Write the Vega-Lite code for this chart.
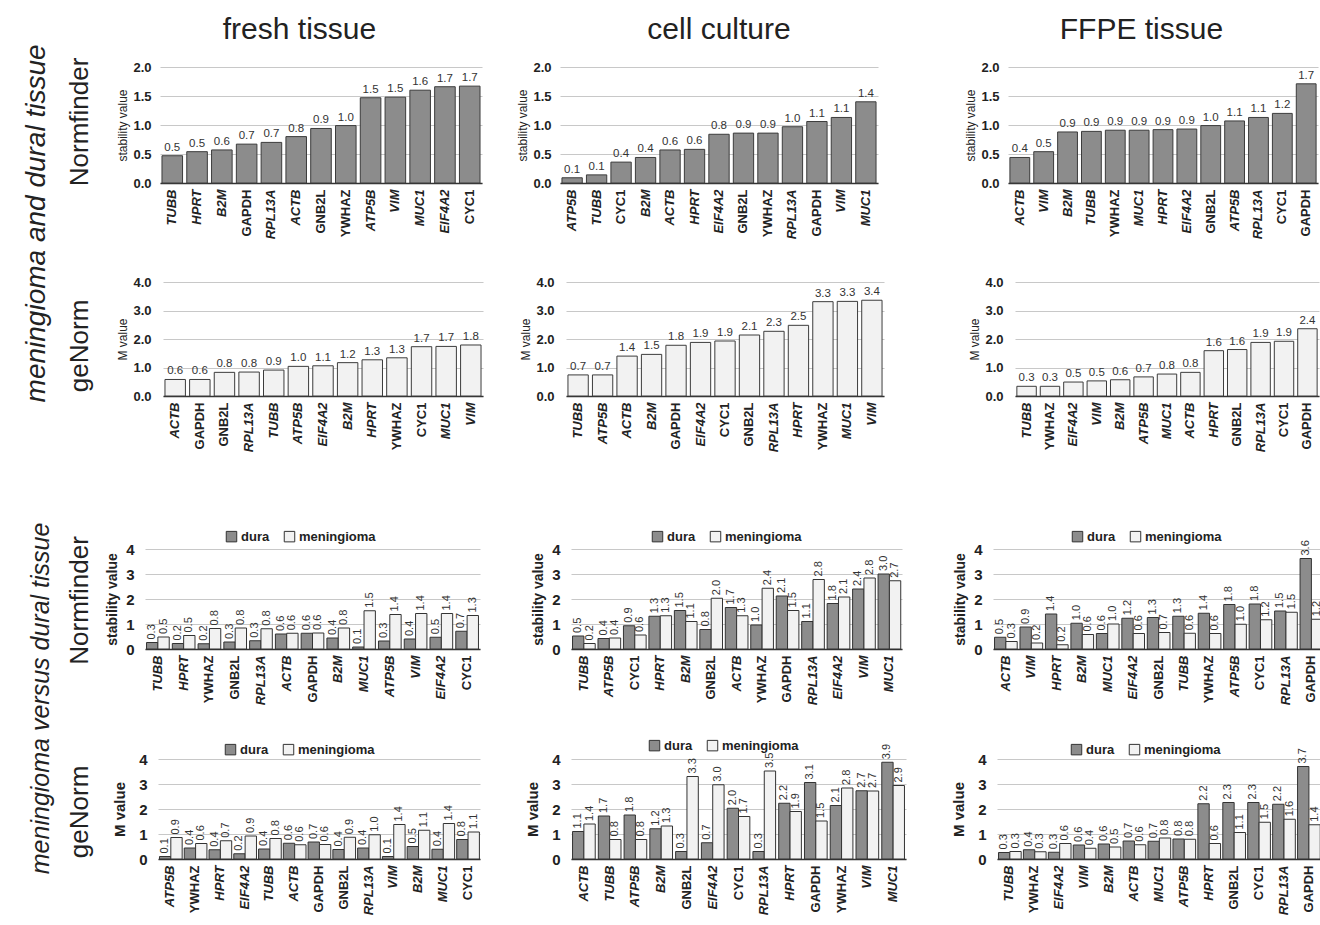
{
"$schema": "https://vega.github.io/schema/vega-lite/v6.json",
"padding": {"left": 22, "top": 15, "right": 0, "bottom": 0},
"config": {
 "font": "Liberation Sans",
 "view": {"stroke": null},
 "axis": {"labelColor": "#222", "titleColor": "#222"},
 "axisY": {"domain": false, "ticks": false, "gridColor": "#c8c8c8", "gridWidth": 1.2, "labelFontWeight": "bold", "labelFontSize": 12, "titleFontWeight": "normal", "titleFontSize": 12, "labelPadding": 3, "titlePadding": 4},
 "axisX": {"domainColor": "#333", "domainWidth": 1.5, "ticks": false, "labelAngle": -90, "labelFontWeight": "bold", "labelFontSize": 13, "grid": false, "labelPadding": 6},
 "title": {"color": "#222", "fontWeight": "normal"}
},
"datasets": {
 "empty": [],
 "nf_fresh": [{"gene":"TUBB","value":0.47},{"gene":"HPRT","value":0.54},{"gene":"B2M","value":0.57},{"gene":"GAPDH","value":0.67},{"gene":"RPL13A","value":0.7},{"gene":"ACTB","value":0.8},{"gene":"GNB2L","value":0.94},{"gene":"YWHAZ","value":0.99},{"gene":"ATP5B","value":1.47},{"gene":"VIM","value":1.48},{"gene":"MUC1","value":1.6},{"gene":"EIF4A2","value":1.66},{"gene":"CYC1","value":1.67}],
 "nf_cell": [{"gene":"ATP5B","value":0.09},{"gene":"TUBB","value":0.14},{"gene":"CYC1","value":0.36},{"gene":"B2M","value":0.44},{"gene":"ACTB","value":0.57},{"gene":"HPRT","value":0.58},{"gene":"EIF4A2","value":0.84},{"gene":"GNB2L","value":0.86},{"gene":"YWHAZ","value":0.86},{"gene":"RPL13A","value":0.97},{"gene":"GAPDH","value":1.06},{"gene":"VIM","value":1.13},{"gene":"MUC1","value":1.4}],
 "nf_ffpe": [{"gene":"ACTB","value":0.44},{"gene":"VIM","value":0.54},{"gene":"B2M","value":0.88},{"gene":"TUBB","value":0.89},{"gene":"YWHAZ","value":0.91},{"gene":"MUC1","value":0.91},{"gene":"HPRT","value":0.92},{"gene":"EIF4A2","value":0.93},{"gene":"GNB2L","value":0.99},{"gene":"ATP5B","value":1.07},{"gene":"RPL13A","value":1.13},{"gene":"CYC1","value":1.2},{"gene":"GAPDH","value":1.71}],
 "gn_fresh": [{"gene":"ACTB","value":0.58},{"gene":"GAPDH","value":0.58},{"gene":"GNB2L","value":0.83},{"gene":"RPL13A","value":0.84},{"gene":"TUBB","value":0.91},{"gene":"ATP5B","value":1.04},{"gene":"EIF4A2","value":1.06},{"gene":"B2M","value":1.17},{"gene":"HPRT","value":1.27},{"gene":"YWHAZ","value":1.34},{"gene":"CYC1","value":1.73},{"gene":"MUC1","value":1.74},{"gene":"VIM","value":1.79}],
 "gn_cell": [{"gene":"TUBB","value":0.74},{"gene":"ATP5B","value":0.74},{"gene":"ACTB","value":1.4},{"gene":"B2M","value":1.46},{"gene":"GAPDH","value":1.78},{"gene":"EIF4A2","value":1.88},{"gene":"CYC1","value":1.93},{"gene":"GNB2L","value":2.14},{"gene":"RPL13A","value":2.27},{"gene":"HPRT","value":2.48},{"gene":"YWHAZ","value":3.31},{"gene":"MUC1","value":3.32},{"gene":"VIM","value":3.36}],
 "gn_ffpe": [{"gene":"TUBB","value":0.34},{"gene":"YWHAZ","value":0.34},{"gene":"EIF4A2","value":0.49},{"gene":"VIM","value":0.53},{"gene":"B2M","value":0.57},{"gene":"ATP5B","value":0.67},{"gene":"MUC1","value":0.77},{"gene":"ACTB","value":0.83},{"gene":"HPRT","value":1.59},{"gene":"GNB2L","value":1.63},{"gene":"RPL13A","value":1.88},{"gene":"CYC1","value":1.92},{"gene":"GAPDH","value":2.36}],
 "nfc_fresh": [{"gene":"TUBB","tissue":"dura","value":0.26},{"gene":"TUBB","tissue":"meningioma","value":0.48},{"gene":"HPRT","tissue":"dura","value":0.22},{"gene":"HPRT","tissue":"meningioma","value":0.54},{"gene":"YWHAZ","tissue":"dura","value":0.21},{"gene":"YWHAZ","tissue":"meningioma","value":0.82},{"gene":"GNB2L","tissue":"dura","value":0.28},{"gene":"GNB2L","tissue":"meningioma","value":0.84},{"gene":"RPL13A","tissue":"dura","value":0.33},{"gene":"RPL13A","tissue":"meningioma","value":0.81},{"gene":"ACTB","tissue":"dura","value":0.6},{"gene":"ACTB","tissue":"meningioma","value":0.63},{"gene":"GAPDH","tissue":"dura","value":0.63},{"gene":"GAPDH","tissue":"meningioma","value":0.64},{"gene":"B2M","tissue":"dura","value":0.44},{"gene":"B2M","tissue":"meningioma","value":0.84},{"gene":"MUC1","tissue":"dura","value":0.08},{"gene":"MUC1","tissue":"meningioma","value":1.53},{"gene":"ATP5B","tissue":"dura","value":0.32},{"gene":"ATP5B","tissue":"meningioma","value":1.38},{"gene":"VIM","tissue":"dura","value":0.4},{"gene":"VIM","tissue":"meningioma","value":1.42},{"gene":"EIF4A2","tissue":"dura","value":0.47},{"gene":"EIF4A2","tissue":"meningioma","value":1.42},{"gene":"CYC1","tissue":"dura","value":0.71},{"gene":"CYC1","tissue":"meningioma","value":1.34}],
 "nfc_cell": [{"gene":"TUBB","tissue":"dura","value":0.52},{"gene":"TUBB","tissue":"meningioma","value":0.22},{"gene":"ATP5B","tissue":"dura","value":0.42},{"gene":"ATP5B","tissue":"meningioma","value":0.44},{"gene":"CYC1","tissue":"dura","value":0.93},{"gene":"CYC1","tissue":"meningioma","value":0.56},{"gene":"HPRT","tissue":"dura","value":1.31},{"gene":"HPRT","tissue":"meningioma","value":1.33},{"gene":"B2M","tissue":"dura","value":1.54},{"gene":"B2M","tissue":"meningioma","value":1.1},{"gene":"GNB2L","tissue":"dura","value":0.78},{"gene":"GNB2L","tissue":"meningioma","value":2.03},{"gene":"ACTB","tissue":"dura","value":1.66},{"gene":"ACTB","tissue":"meningioma","value":1.33},{"gene":"YWHAZ","tissue":"dura","value":0.96},{"gene":"YWHAZ","tissue":"meningioma","value":2.43},{"gene":"GAPDH","tissue":"dura","value":2.12},{"gene":"GAPDH","tissue":"meningioma","value":1.54},{"gene":"RPL13A","tissue":"dura","value":1.1},{"gene":"RPL13A","tissue":"meningioma","value":2.78},{"gene":"EIF4A2","tissue":"dura","value":1.82},{"gene":"EIF4A2","tissue":"meningioma","value":2.08},{"gene":"VIM","tissue":"dura","value":2.4},{"gene":"VIM","tissue":"meningioma","value":2.84},{"gene":"MUC1","tissue":"dura","value":3.0},{"gene":"MUC1","tissue":"meningioma","value":2.73}],
 "nfc_ffpe": [{"gene":"ACTB","tissue":"dura","value":0.47},{"gene":"ACTB","tissue":"meningioma","value":0.3},{"gene":"VIM","tissue":"dura","value":0.88},{"gene":"VIM","tissue":"meningioma","value":0.24},{"gene":"HPRT","tissue":"dura","value":1.4},{"gene":"HPRT","tissue":"meningioma","value":0.17},{"gene":"B2M","tissue":"dura","value":1.03},{"gene":"B2M","tissue":"meningioma","value":0.58},{"gene":"MUC1","tissue":"dura","value":0.62},{"gene":"MUC1","tissue":"meningioma","value":1.0},{"gene":"EIF4A2","tissue":"dura","value":1.23},{"gene":"EIF4A2","tissue":"meningioma","value":0.62},{"gene":"GNB2L","tissue":"dura","value":1.26},{"gene":"GNB2L","tissue":"meningioma","value":0.66},{"gene":"TUBB","tissue":"dura","value":1.31},{"gene":"TUBB","tissue":"meningioma","value":0.63},{"gene":"YWHAZ","tissue":"dura","value":1.43},{"gene":"YWHAZ","tissue":"meningioma","value":0.62},{"gene":"ATP5B","tissue":"dura","value":1.78},{"gene":"ATP5B","tissue":"meningioma","value":0.99},{"gene":"CYC1","tissue":"dura","value":1.8},{"gene":"CYC1","tissue":"meningioma","value":1.17},{"gene":"RPL13A","tissue":"dura","value":1.52},{"gene":"RPL13A","tissue":"meningioma","value":1.47},{"gene":"GAPDH","tissue":"dura","value":3.62},{"gene":"GAPDH","tissue":"meningioma","value":1.19}],
 "gnc_fresh": [{"gene":"ATP5B","tissue":"dura","value":0.1},{"gene":"ATP5B","tissue":"meningioma","value":0.86},{"gene":"YWHAZ","tissue":"dura","value":0.44},{"gene":"YWHAZ","tissue":"meningioma","value":0.62},{"gene":"HPRT","tissue":"dura","value":0.37},{"gene":"HPRT","tissue":"meningioma","value":0.73},{"gene":"EIF4A2","tissue":"dura","value":0.21},{"gene":"EIF4A2","tissue":"meningioma","value":0.92},{"gene":"TUBB","tissue":"dura","value":0.4},{"gene":"TUBB","tissue":"meningioma","value":0.82},{"gene":"ACTB","tissue":"dura","value":0.63},{"gene":"ACTB","tissue":"meningioma","value":0.57},{"gene":"GAPDH","tissue":"dura","value":0.68},{"gene":"GAPDH","tissue":"meningioma","value":0.58},{"gene":"GNB2L","tissue":"dura","value":0.38},{"gene":"GNB2L","tissue":"meningioma","value":0.87},{"gene":"RPL13A","tissue":"dura","value":0.44},{"gene":"RPL13A","tissue":"meningioma","value":0.97},{"gene":"VIM","tissue":"dura","value":0.1},{"gene":"VIM","tissue":"meningioma","value":1.38},{"gene":"B2M","tissue":"dura","value":0.5},{"gene":"B2M","tissue":"meningioma","value":1.15},{"gene":"MUC1","tissue":"dura","value":0.39},{"gene":"MUC1","tissue":"meningioma","value":1.42},{"gene":"CYC1","tissue":"dura","value":0.78},{"gene":"CYC1","tissue":"meningioma","value":1.08}],
 "gnc_cell": [{"gene":"ACTB","tissue":"dura","value":1.1},{"gene":"ACTB","tissue":"meningioma","value":1.4},{"gene":"TUBB","tissue":"dura","value":1.72},{"gene":"TUBB","tissue":"meningioma","value":0.78},{"gene":"ATP5B","tissue":"dura","value":1.76},{"gene":"ATP5B","tissue":"meningioma","value":0.78},{"gene":"B2M","tissue":"dura","value":1.21},{"gene":"B2M","tissue":"meningioma","value":1.32},{"gene":"GNB2L","tissue":"dura","value":0.3},{"gene":"GNB2L","tissue":"meningioma","value":3.3},{"gene":"EIF4A2","tissue":"dura","value":0.65},{"gene":"EIF4A2","tissue":"meningioma","value":2.97},{"gene":"CYC1","tissue":"dura","value":2.03},{"gene":"CYC1","tissue":"meningioma","value":1.7},{"gene":"RPL13A","tissue":"dura","value":0.3},{"gene":"RPL13A","tissue":"meningioma","value":3.52},{"gene":"HPRT","tissue":"dura","value":2.23},{"gene":"HPRT","tissue":"meningioma","value":1.9},{"gene":"GAPDH","tissue":"dura","value":3.06},{"gene":"GAPDH","tissue":"meningioma","value":1.52},{"gene":"YWHAZ","tissue":"dura","value":2.14},{"gene":"YWHAZ","tissue":"meningioma","value":2.84},{"gene":"VIM","tissue":"dura","value":2.73},{"gene":"VIM","tissue":"meningioma","value":2.72},{"gene":"MUC1","tissue":"dura","value":3.87},{"gene":"MUC1","tissue":"meningioma","value":2.94}],
 "gnc_ffpe": [{"gene":"TUBB","tissue":"dura","value":0.26},{"gene":"TUBB","tissue":"meningioma","value":0.3},{"gene":"YWHAZ","tissue":"dura","value":0.37},{"gene":"YWHAZ","tissue":"meningioma","value":0.29},{"gene":"EIF4A2","tissue":"dura","value":0.27},{"gene":"EIF4A2","tissue":"meningioma","value":0.62},{"gene":"VIM","tissue":"dura","value":0.56},{"gene":"VIM","tissue":"meningioma","value":0.43},{"gene":"B2M","tissue":"dura","value":0.6},{"gene":"B2M","tissue":"meningioma","value":0.48},{"gene":"ACTB","tissue":"dura","value":0.72},{"gene":"ACTB","tissue":"meningioma","value":0.57},{"gene":"MUC1","tissue":"dura","value":0.71},{"gene":"MUC1","tissue":"meningioma","value":0.84},{"gene":"ATP5B","tissue":"dura","value":0.8},{"gene":"ATP5B","tissue":"meningioma","value":0.79},{"gene":"HPRT","tissue":"dura","value":2.21},{"gene":"HPRT","tissue":"meningioma","value":0.62},{"gene":"GNB2L","tissue":"dura","value":2.26},{"gene":"GNB2L","tissue":"meningioma","value":1.06},{"gene":"CYC1","tissue":"dura","value":2.26},{"gene":"CYC1","tissue":"meningioma","value":1.47},{"gene":"RPL13A","tissue":"dura","value":2.19},{"gene":"RPL13A","tissue":"meningioma","value":1.59},{"gene":"GAPDH","tissue":"dura","value":3.7},{"gene":"GAPDH","tissue":"meningioma","value":1.37}]
},
"spacing": 70,
"resolve": {"scale": {"fill": "independent"}, "legend": {"fill": "independent"}},
"vconcat": [
 {
  "title": {"text": "meningioma and dural tissue", "orient": "left", "anchor": "middle", "frame": "bounds", "fontSize": 28, "fontStyle": "italic", "offset": 16, "dx": 10},
  "spacing": 37,
  "vconcat": [
   {
    "title": {"text": "Normfinder", "orient": "left", "anchor": "middle", "frame": "bounds", "fontSize": 26, "offset": 4, "dx": 5},
    "spacing": 18,
    "hconcat": [
     {"width": 1, "height": 1, "data": {"name": "empty"}, "mark": {"type": "text"}, "encoding": {}},
     {
      "spacing": 86,
      "hconcat": [
       {
        "spacing": 34,
        "hconcat": [
         {
          "title": {"text": "fresh tissue", "fontSize": 30, "frame": "bounds", "anchor": "middle", "offset": 16},
          "width": 322, "height": 116,
          "data": {"name": "nf_fresh"},
          "encoding": {
           "x": {"field": "gene", "type": "nominal", "sort": null, "title": null, "scale": {"paddingInner": 0.17, "paddingOuter": 0.08}, "axis": {"labelFontStyle": {"condition": {"test": "indexof(['GAPDH','GNB2L','YWHAZ','CYC1'], datum.value) >= 0", "value": "normal"}, "value": "italic"}}},
           "y": {"field": "value", "type": "quantitative", "scale": {"domain": [0, 2]}, "axis": {"title": "stability value", "values": [0, 0.5, 1, 1.5, 2], "format": ".1f", "labelFontSize": 13, "titlePadding": 3, "labelPadding": 9}}
          },
          "layer": [
           {"mark": {"type": "bar", "fill": "#8c8c8c", "stroke": "#3c3c3c", "strokeWidth": 1}},
           {"mark": {"type": "text", "baseline": "bottom", "dy": -3, "fontSize": 11.5, "color": "#333"}, "encoding": {"text": {"field": "value", "format": ".1f"}}}
          ]
         },
         {
          "title": {"text": "cell culture", "fontSize": 30, "frame": "group", "anchor": "middle", "offset": 16},
          "width": 318, "height": 116,
          "data": {"name": "nf_cell"},
          "encoding": {
           "x": {"field": "gene", "type": "nominal", "sort": null, "title": null, "scale": {"paddingInner": 0.17, "paddingOuter": 0.08}, "axis": {"labelFontStyle": {"condition": {"test": "indexof(['GAPDH','GNB2L','YWHAZ','CYC1'], datum.value) >= 0", "value": "normal"}, "value": "italic"}}},
           "y": {"field": "value", "type": "quantitative", "scale": {"domain": [0, 2]}, "axis": {"title": "stability value", "values": [0, 0.5, 1, 1.5, 2], "format": ".1f", "labelFontSize": 13, "titlePadding": 3, "labelPadding": 9}}
          },
          "layer": [
           {"mark": {"type": "bar", "fill": "#8c8c8c", "stroke": "#3c3c3c", "strokeWidth": 1}},
           {"mark": {"type": "text", "baseline": "bottom", "dy": -3, "fontSize": 11.5, "color": "#333"}, "encoding": {"text": {"field": "value", "format": ".1f"}}}
          ]
         }
        ]
       },
       {
        "title": {"text": "FFPE tissue", "fontSize": 30, "frame": "bounds", "anchor": "middle", "offset": 16},
        "width": 310, "height": 116,
        "data": {"name": "nf_ffpe"},
        "encoding": {
         "x": {"field": "gene", "type": "nominal", "sort": null, "title": null, "scale": {"paddingInner": 0.17, "paddingOuter": 0.08}, "axis": {"labelFontStyle": {"condition": {"test": "indexof(['GAPDH','GNB2L','YWHAZ','CYC1'], datum.value) >= 0", "value": "normal"}, "value": "italic"}}},
         "y": {"field": "value", "type": "quantitative", "scale": {"domain": [0, 2]}, "axis": {"title": "stability value", "values": [0, 0.5, 1, 1.5, 2], "format": ".1f", "labelFontSize": 13, "titlePadding": 3, "labelPadding": 9}}
        },
        "layer": [
         {"mark": {"type": "bar", "fill": "#8c8c8c", "stroke": "#3c3c3c", "strokeWidth": 1}},
         {"mark": {"type": "text", "baseline": "bottom", "dy": -3, "fontSize": 11.5, "color": "#333"}, "encoding": {"text": {"field": "value", "format": ".1f"}}}
        ]
       }
      ]
     }
    ]
   },
   {
    "title": {"text": "geNorm", "orient": "left", "anchor": "middle", "frame": "bounds", "fontSize": 26, "offset": 4, "dx": 18},
    "spacing": 18,
    "hconcat": [
     {"width": 1, "height": 1, "data": {"name": "empty"}, "mark": {"type": "text"}, "encoding": {}},
     {
      "spacing": 84,
      "hconcat": [
       {
        "spacing": 36,
        "hconcat": [
         {
          "width": 320, "height": 114,
          "data": {"name": "gn_fresh"},
          "encoding": {
           "x": {"field": "gene", "type": "nominal", "sort": null, "title": null, "scale": {"paddingInner": 0.17, "paddingOuter": 0.08}, "axis": {"labelFontStyle": {"condition": {"test": "indexof(['GAPDH','GNB2L','YWHAZ','CYC1'], datum.value) >= 0", "value": "normal"}, "value": "italic"}}},
           "y": {"field": "value", "type": "quantitative", "scale": {"domain": [0, 4]}, "axis": {"title": "M value", "values": [0, 1, 2, 3, 4], "format": ".1f", "labelFontSize": 13, "titlePadding": 3, "labelPadding": 12}}
          },
          "layer": [
           {"mark": {"type": "bar", "fill": "#f2f2f2", "stroke": "#3c3c3c", "strokeWidth": 1}},
           {"mark": {"type": "text", "baseline": "bottom", "dy": -3, "fontSize": 11.5, "color": "#333"}, "encoding": {"text": {"field": "value", "format": ".1f"}}}
          ]
         },
         {
          "width": 318, "height": 114,
          "data": {"name": "gn_cell"},
          "encoding": {
           "x": {"field": "gene", "type": "nominal", "sort": null, "title": null, "scale": {"paddingInner": 0.17, "paddingOuter": 0.08}, "axis": {"labelFontStyle": {"condition": {"test": "indexof(['GAPDH','GNB2L','YWHAZ','CYC1'], datum.value) >= 0", "value": "normal"}, "value": "italic"}}},
           "y": {"field": "value", "type": "quantitative", "scale": {"domain": [0, 4]}, "axis": {"title": "M value", "values": [0, 1, 2, 3, 4], "format": ".1f", "labelFontSize": 13, "titlePadding": 3, "labelPadding": 12}}
          },
          "layer": [
           {"mark": {"type": "bar", "fill": "#f2f2f2", "stroke": "#3c3c3c", "strokeWidth": 1}},
           {"mark": {"type": "text", "baseline": "bottom", "dy": -3, "fontSize": 11.5, "color": "#333"}, "encoding": {"text": {"field": "value", "format": ".1f"}}}
          ]
         }
        ]
       },
       {
        "width": 304, "height": 114,
        "data": {"name": "gn_ffpe"},
        "encoding": {
         "x": {"field": "gene", "type": "nominal", "sort": null, "title": null, "scale": {"paddingInner": 0.17, "paddingOuter": 0.08}, "axis": {"labelFontStyle": {"condition": {"test": "indexof(['GAPDH','GNB2L','YWHAZ','CYC1'], datum.value) >= 0", "value": "normal"}, "value": "italic"}}},
         "y": {"field": "value", "type": "quantitative", "scale": {"domain": [0, 4]}, "axis": {"title": "M value", "values": [0, 1, 2, 3, 4], "format": ".1f", "labelFontSize": 13, "titlePadding": 3, "labelPadding": 12}}
        },
        "layer": [
         {"mark": {"type": "bar", "fill": "#f2f2f2", "stroke": "#3c3c3c", "strokeWidth": 1}},
         {"mark": {"type": "text", "baseline": "bottom", "dy": -3, "fontSize": 11.5, "color": "#333"}, "encoding": {"text": {"field": "value", "format": ".1f"}}}
        ]
       }
      ]
     }
    ]
   }
  ]
 },
 {
  "title": {"text": "meningioma versus dural tissue", "orient": "left", "anchor": "middle", "frame": "bounds", "fontSize": 25, "fontStyle": "italic", "offset": 13, "dx": 24},
  "spacing": 34,
  "resolve": {"scale": {"fill": "independent"}, "legend": {"fill": "independent"}},
  "vconcat": [
   {
    "title": {"text": "Normfinder", "orient": "left", "anchor": "middle", "frame": "bounds", "fontSize": 26, "offset": 4, "dx": 17},
    "spacing": 7,
    "resolve": {"scale": {"fill": "independent"}, "legend": {"fill": "independent"}},
    "hconcat": [
     {"width": 1, "height": 1, "data": {"name": "empty"}, "mark": {"type": "text"}, "encoding": {}},
     {
      "spacing": 51,
      "resolve": {"scale": {"fill": "independent"}, "legend": {"fill": "independent"}},
      "hconcat": [
       {
        "width": 335, "height": 100,
        "data": {"name": "nfc_fresh"},
        "encoding": {
         "x": {"field": "gene", "type": "nominal", "sort": null, "title": null, "scale": {"paddingInner": 0.12, "paddingOuter": 0.06}, "axis": {"labelFontStyle": {"condition": {"test": "indexof(['GAPDH','GNB2L','YWHAZ','CYC1'], datum.value) >= 0", "value": "normal"}, "value": "italic"}}},
         "xOffset": {"field": "tissue", "type": "nominal", "sort": ["dura", "meningioma"]},
         "y": {"field": "value", "type": "quantitative", "scale": {"domain": [0, 4]}, "axis": {"title": "stability value", "values": [0, 1, 2, 3, 4], "labelFontSize": 15, "titleFontSize": 14, "titleFontWeight": "bold", "titlePadding": 6, "labelPadding": 11}}
        },
        "layer": [
         {"mark": {"type": "bar", "stroke": "#333", "strokeWidth": 1}, "encoding": {"fill": {"field": "tissue", "type": "nominal", "scale": {"domain": ["dura", "meningioma"], "range": ["#8c8c8c", "#f2f2f2"]}, "legend": {"orient": "none", "legendX": 80, "legendY": -19, "direction": "horizontal", "title": null, "labelFontSize": 13, "labelFontWeight": "bold", "labelColor": "#222", "symbolType": "square", "symbolSize": 110, "symbolStrokeColor": "#333", "symbolStrokeWidth": 1, "columnPadding": 12, "labelOffset": 3}}}},
         {"mark": {"type": "text", "angle": 270, "align": "left", "baseline": "middle", "dx": 3, "fontSize": 11, "color": "#333"}, "encoding": {"text": {"field": "value", "format": ".1f"}}}
        ]
       },
       {
        "width": 331, "height": 100,
        "data": {"name": "nfc_cell"},
        "encoding": {
         "x": {"field": "gene", "type": "nominal", "sort": null, "title": null, "scale": {"paddingInner": 0.12, "paddingOuter": 0.06}, "axis": {"labelFontStyle": {"condition": {"test": "indexof(['GAPDH','GNB2L','YWHAZ','CYC1'], datum.value) >= 0", "value": "normal"}, "value": "italic"}}},
         "xOffset": {"field": "tissue", "type": "nominal", "sort": ["dura", "meningioma"]},
         "y": {"field": "value", "type": "quantitative", "scale": {"domain": [0, 4]}, "axis": {"title": "stability value", "values": [0, 1, 2, 3, 4], "labelFontSize": 15, "titleFontSize": 14, "titleFontWeight": "bold", "titlePadding": 6, "labelPadding": 11}}
        },
        "layer": [
         {"mark": {"type": "bar", "stroke": "#333", "strokeWidth": 1}, "encoding": {"fill": {"field": "tissue", "type": "nominal", "scale": {"domain": ["dura", "meningioma"], "range": ["#8c8c8c", "#f2f2f2"]}, "legend": {"orient": "none", "legendX": 80, "legendY": -19, "direction": "horizontal", "title": null, "labelFontSize": 13, "labelFontWeight": "bold", "labelColor": "#222", "symbolType": "square", "symbolSize": 110, "symbolStrokeColor": "#333", "symbolStrokeWidth": 1, "columnPadding": 12, "labelOffset": 3}}}},
         {"mark": {"type": "text", "angle": 270, "align": "left", "baseline": "middle", "dx": 3, "fontSize": 11, "color": "#333"}, "encoding": {"text": {"field": "value", "format": ".1f"}}}
        ]
       },
       {
        "width": 331, "height": 100,
        "data": {"name": "nfc_ffpe"},
        "encoding": {
         "x": {"field": "gene", "type": "nominal", "sort": null, "title": null, "scale": {"paddingInner": 0.12, "paddingOuter": 0.06}, "axis": {"labelFontStyle": {"condition": {"test": "indexof(['GAPDH','GNB2L','YWHAZ','CYC1'], datum.value) >= 0", "value": "normal"}, "value": "italic"}}},
         "xOffset": {"field": "tissue", "type": "nominal", "sort": ["dura", "meningioma"]},
         "y": {"field": "value", "type": "quantitative", "scale": {"domain": [0, 4]}, "axis": {"title": "stability value", "values": [0, 1, 2, 3, 4], "labelFontSize": 15, "titleFontSize": 14, "titleFontWeight": "bold", "titlePadding": 6, "labelPadding": 11}}
        },
        "layer": [
         {"mark": {"type": "bar", "stroke": "#333", "strokeWidth": 1}, "encoding": {"fill": {"field": "tissue", "type": "nominal", "scale": {"domain": ["dura", "meningioma"], "range": ["#8c8c8c", "#f2f2f2"]}, "legend": {"orient": "none", "legendX": 78, "legendY": -19, "direction": "horizontal", "title": null, "labelFontSize": 13, "labelFontWeight": "bold", "labelColor": "#222", "symbolType": "square", "symbolSize": 110, "symbolStrokeColor": "#333", "symbolStrokeWidth": 1, "columnPadding": 12, "labelOffset": 3}}}},
         {"mark": {"type": "text", "angle": 270, "align": "left", "baseline": "middle", "dx": 3, "fontSize": 11, "color": "#333"}, "encoding": {"text": {"field": "value", "format": ".1f"}}}
        ]
       }
      ]
     }
    ]
   },
   {
    "title": {"text": "geNorm", "orient": "left", "anchor": "middle", "frame": "bounds", "fontSize": 26, "offset": 4, "dx": 15},
    "spacing": 14,
    "resolve": {"scale": {"fill": "independent"}, "legend": {"fill": "independent"}},
    "hconcat": [
     {"width": 1, "height": 1, "data": {"name": "empty"}, "mark": {"type": "text"}, "encoding": {}},
     {
      "spacing": 45,
      "resolve": {"scale": {"fill": "independent"}, "legend": {"fill": "independent"}},
      "hconcat": [
       {
        "width": 322, "height": 100,
        "data": {"name": "gnc_fresh"},
        "encoding": {
         "x": {"field": "gene", "type": "nominal", "sort": null, "title": null, "scale": {"paddingInner": 0.12, "paddingOuter": 0.06}, "axis": {"labelFontStyle": {"condition": {"test": "indexof(['GAPDH','GNB2L','YWHAZ','CYC1'], datum.value) >= 0", "value": "normal"}, "value": "italic"}}},
         "xOffset": {"field": "tissue", "type": "nominal", "sort": ["dura", "meningioma"]},
         "y": {"field": "value", "type": "quantitative", "scale": {"domain": [0, 4]}, "axis": {"title": "M value", "values": [0, 1, 2, 3, 4], "labelFontSize": 15, "titleFontSize": 15, "titleFontWeight": "bold", "titlePadding": 11, "labelPadding": 11}}
        },
        "layer": [
         {"mark": {"type": "bar", "stroke": "#333", "strokeWidth": 1}, "encoding": {"fill": {"field": "tissue", "type": "nominal", "scale": {"domain": ["dura", "meningioma"], "range": ["#8c8c8c", "#f2f2f2"]}, "legend": {"orient": "none", "legendX": 66, "legendY": -16, "direction": "horizontal", "title": null, "labelFontSize": 13, "labelFontWeight": "bold", "labelColor": "#222", "symbolType": "square", "symbolSize": 110, "symbolStrokeColor": "#333", "symbolStrokeWidth": 1, "columnPadding": 12, "labelOffset": 3}}}},
         {"mark": {"type": "text", "angle": 270, "align": "left", "baseline": "middle", "dx": 3, "fontSize": 11, "color": "#333"}, "encoding": {"text": {"field": "value", "format": ".1f"}}}
        ]
       },
       {
        "width": 335, "height": 100,
        "data": {"name": "gnc_cell"},
        "encoding": {
         "x": {"field": "gene", "type": "nominal", "sort": null, "title": null, "scale": {"paddingInner": 0.12, "paddingOuter": 0.06}, "axis": {"labelFontStyle": {"condition": {"test": "indexof(['GAPDH','GNB2L','YWHAZ','CYC1'], datum.value) >= 0", "value": "normal"}, "value": "italic"}}},
         "xOffset": {"field": "tissue", "type": "nominal", "sort": ["dura", "meningioma"]},
         "y": {"field": "value", "type": "quantitative", "scale": {"domain": [0, 4]}, "axis": {"title": "M value", "values": [0, 1, 2, 3, 4], "labelFontSize": 15, "titleFontSize": 15, "titleFontWeight": "bold", "titlePadding": 11, "labelPadding": 11}}
        },
        "layer": [
         {"mark": {"type": "bar", "stroke": "#333", "strokeWidth": 1}, "encoding": {"fill": {"field": "tissue", "type": "nominal", "scale": {"domain": ["dura", "meningioma"], "range": ["#8c8c8c", "#f2f2f2"]}, "legend": {"orient": "none", "legendX": 77, "legendY": -20, "direction": "horizontal", "title": null, "labelFontSize": 13, "labelFontWeight": "bold", "labelColor": "#222", "symbolType": "square", "symbolSize": 110, "symbolStrokeColor": "#333", "symbolStrokeWidth": 1, "columnPadding": 12, "labelOffset": 3}}}},
         {"mark": {"type": "text", "angle": 270, "align": "left", "baseline": "middle", "dx": 3, "fontSize": 11, "color": "#333"}, "encoding": {"text": {"field": "value", "format": ".1f"}}}
        ]
       },
       {
        "width": 324, "height": 100,
        "data": {"name": "gnc_ffpe"},
        "encoding": {
         "x": {"field": "gene", "type": "nominal", "sort": null, "title": null, "scale": {"paddingInner": 0.12, "paddingOuter": 0.06}, "axis": {"labelFontStyle": {"condition": {"test": "indexof(['GAPDH','GNB2L','YWHAZ','CYC1'], datum.value) >= 0", "value": "normal"}, "value": "italic"}}},
         "xOffset": {"field": "tissue", "type": "nominal", "sort": ["dura", "meningioma"]},
         "y": {"field": "value", "type": "quantitative", "scale": {"domain": [0, 4]}, "axis": {"title": "M value", "values": [0, 1, 2, 3, 4], "labelFontSize": 15, "titleFontSize": 15, "titleFontWeight": "bold", "titlePadding": 11, "labelPadding": 11}}
        },
        "layer": [
         {"mark": {"type": "bar", "stroke": "#333", "strokeWidth": 1}, "encoding": {"fill": {"field": "tissue", "type": "nominal", "scale": {"domain": ["dura", "meningioma"], "range": ["#8c8c8c", "#f2f2f2"]}, "legend": {"orient": "none", "legendX": 73, "legendY": -16, "direction": "horizontal", "title": null, "labelFontSize": 13, "labelFontWeight": "bold", "labelColor": "#222", "symbolType": "square", "symbolSize": 110, "symbolStrokeColor": "#333", "symbolStrokeWidth": 1, "columnPadding": 12, "labelOffset": 3}}}},
         {"mark": {"type": "text", "angle": 270, "align": "left", "baseline": "middle", "dx": 3, "fontSize": 11, "color": "#333"}, "encoding": {"text": {"field": "value", "format": ".1f"}}}
        ]
       }
      ]
     }
    ]
   }
  ]
 }
]
}
